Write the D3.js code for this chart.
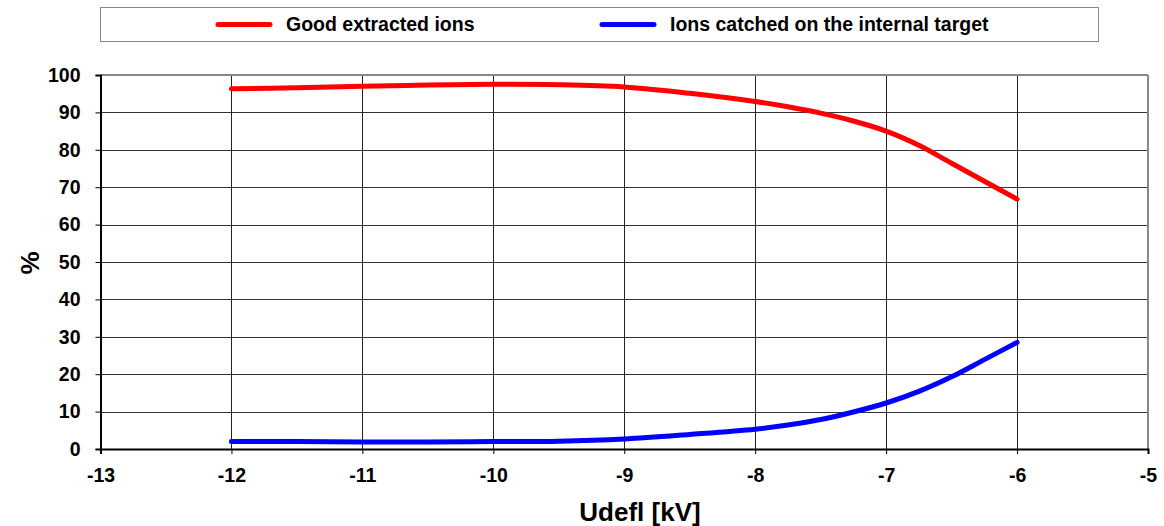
<!DOCTYPE html>
<html lang="en">
<head>
<meta charset="utf-8">
<title>Udefl chart</title>
<script src="https://cdn.jsdelivr.net/npm/d3@7"></script>
<style>
  body { margin: 0; background: #fff; }
  svg text { font-family: "Liberation Sans", Arial, sans-serif; font-weight: bold; }
</style>
</head>
<body>
<div id="chart"></div>
<script>
// data
const udefl = [-12, -11.5, -11, -10.5, -10, -9.5, -9, -8.5, -8, -7.75, -7.5, -7.25, -7, -6.75, -6.5, -6.25, -6];
const goodIons = [96.3, 96.6, 97.0, 97.3, 97.5, 97.4, 96.8, 95.1, 92.9, 91.5, 89.8, 87.7, 85.0, 81.2, 76.4, 71.6, 66.8];
const caughtIons = [2.0, 2.0, 1.9, 1.9, 2.0, 2.1, 2.7, 3.9, 5.3, 6.4, 7.9, 9.9, 12.3, 15.4, 19.3, 23.9, 28.5];
const xTicks = [-13, -12, -11, -10, -9, -8, -7, -6, -5];
const yTicks = [0, 10, 20, 30, 40, 50, 60, 70, 80, 90, 100];
const seriesNames = ["Good extracted ions", "Ions catched on the internal target"];
const seriesColors = ["#ff0000", "#0000ff"];

const W = 1164, H = 526;
const plotL = 100.5, plotR = 1148, plotT = 75, plotB = 449;

const svg = d3.select("#chart").append("svg")
  .attr("width", W).attr("height", H);

const x = d3.scaleLinear().domain([-13, -5]).range([plotL, plotR]);
const y = d3.scaleLinear().domain([0, 100]).range([plotB, plotT]);

// grid
svg.append("g").selectAll("line")
  .data(yTicks.filter(d => d > 0 && d < 100))
  .enter().append("line")
  .attr("x1", plotL).attr("x2", plotR)
  .attr("y1", d => Math.round(y(d)) + 0.5).attr("y2", d => Math.round(y(d)) + 0.5)
  .attr("stroke", "#333").attr("stroke-width", 1);

svg.append("g").selectAll("line")
  .data(xTicks.filter(d => d > -13 && d < -5))
  .enter().append("line")
  .attr("y1", plotT).attr("y2", plotB)
  .attr("x1", d => Math.round(x(d)) + 0.5).attr("x2", d => Math.round(x(d)) + 0.5)
  .attr("stroke", "#222").attr("stroke-width", 1);

// plot border (top/right grey)
svg.append("line").attr("x1", plotL).attr("x2", plotR).attr("y1", plotT).attr("y2", plotT)
  .attr("stroke", "#888").attr("stroke-width", 2);
svg.append("line").attr("x1", plotR).attr("x2", plotR).attr("y1", plotT).attr("y2", plotB)
  .attr("stroke", "#888").attr("stroke-width", 2);

// axes (plain hyphen for minus, like the original)
const yAxis = d3.axisLeft(y).tickValues(yTicks).tickSize(5).tickPadding(15);
const xAxis = d3.axisBottom(x).tickValues(xTicks).tickSize(5).tickPadding(14)
  .tickFormat(d => String(d));

const gy = svg.append("g").attr("transform", `translate(${plotL},0)`).call(yAxis);
const gx = svg.append("g").attr("transform", `translate(0,${plotB})`).call(xAxis);
[gy, gx].forEach(g => {
  g.select(".domain").attr("stroke", "#000").attr("stroke-width", 2);
  g.selectAll(".tick line").attr("stroke", "#000").attr("stroke-width", 1);
  g.selectAll(".tick text").attr("fill", "#000").style("font-size", "19.5px")
    .style("font-family", "'Liberation Sans', Arial, sans-serif").style("font-weight", "bold");
});

// lines
const line = d3.line()
  .x((d, i) => x(udefl[i]))
  .y(d => y(d))
  .curve(d3.curveCatmullRom.alpha(0.5));

[goodIons, caughtIons].forEach((vals, k) => {
  svg.append("path").datum(vals)
    .attr("d", line)
    .attr("fill", "none")
    .attr("stroke", seriesColors[k])
    .attr("stroke-width", 5)
    .attr("stroke-linecap", "round");
});

// axis titles
svg.append("text")
  .attr("x", 640).attr("y", 521)
  .attr("text-anchor", "middle").style("font-size", "26px")
  .text("Udefl [kV]");

svg.append("text")
  .attr("transform", `translate(39,263) rotate(-90)`)
  .attr("text-anchor", "middle").style("font-size", "26px")
  .text("%");

// legend
svg.append("rect")
  .attr("x", 100.5).attr("y", 7.5).attr("width", 998).attr("height", 34)
  .attr("fill", "#fff").attr("stroke", "#888").attr("stroke-width", 1);

const legendX = [218, 602];
seriesNames.forEach((name, k) => {
  svg.append("line")
    .attr("x1", legendX[k]).attr("x2", legendX[k] + 52)
    .attr("y1", 24.5).attr("y2", 24.5)
    .attr("stroke", seriesColors[k]).attr("stroke-width", 5)
    .attr("stroke-linecap", "round");
  svg.append("text")
    .attr("x", legendX[k] + 68).attr("y", 31)
    .style("font-size", "19.5px")
    .text(name);
});
</script>
</body>
</html>
